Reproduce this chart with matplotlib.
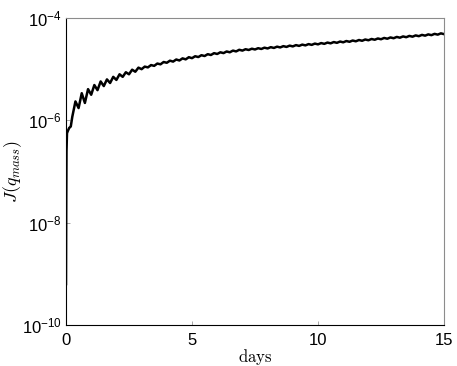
import numpy as np
import matplotlib
matplotlib.use("Agg")
import matplotlib.pyplot as plt
from matplotlib.ticker import FixedLocator, NullLocator, FuncFormatter

plt.rcParams['font.family'] = ['Liberation Sans', 'DejaVu Sans']
plt.rcParams['mathtext.fontset'] = 'cm'

# time (days) and log10 J(q_mass)
days_early = [0.0, 0.01, 0.02, 0.04, 0.08, 0.125, 0.19, 0.25]
logj_early = [-9.2, -7.6, -6.6, -6.25, -6.2, -6.15, -6.12, -5.93]

# from 0.375 on, one value every 0.125 day (peaks and troughs of the wiggles)
days_osc = [0.375 + 0.125 * k for k in range(118)]
logj_osc = [
    -5.63, -5.76, -5.47, -5.66, -5.39, -5.50, -5.31, -5.41,   # 0.375 - 1.25
    -5.24, -5.33, -5.20, -5.27, -5.15, -5.21, -5.10, -5.15,   # 1.375 - 2.25
    -5.06, -5.10, -5.01, -5.05, -4.97, -5.00,                 # 2.375 - 3.0
    -4.950, -4.965, -4.920, -4.935, -4.890, -4.905, -4.860, -4.875,   # 3.125 - 4.0
    -4.834, -4.852, -4.811, -4.830, -4.789, -4.808, -4.766, -4.785,   # 4.125 - 5.0
    -4.747, -4.763, -4.727, -4.743, -4.707, -4.723, -4.687, -4.703,   # 5.125 - 6.0
    -4.670, -4.686, -4.654, -4.670, -4.637, -4.653, -4.621, -4.637,   # 6.125 - 7.0
    -4.610, -4.625, -4.600, -4.615, -4.590, -4.605, -4.580, -4.595,   # 7.125 - 8.0
    -4.570, -4.585, -4.560, -4.575, -4.550, -4.565, -4.540, -4.555,   # 8.125 - 9.0
    -4.530, -4.545, -4.520, -4.535, -4.510, -4.525, -4.500, -4.515,   # 9.125 - 10.0
    -4.490, -4.505, -4.480, -4.495, -4.470, -4.485, -4.460, -4.475,   # 10.125 - 11.0
    -4.450, -4.465, -4.440, -4.455, -4.430, -4.445, -4.420, -4.435,   # 11.125 - 12.0
    -4.410, -4.425, -4.400, -4.415, -4.390, -4.405, -4.380, -4.395,   # 12.125 - 13.0
    -4.370, -4.385, -4.360, -4.375, -4.350, -4.365, -4.340, -4.355,   # 13.125 - 14.0
    -4.330, -4.345, -4.320, -4.335, -4.310, -4.325, -4.300, -4.315,   # 14.125 - 15.0
]

ytick_vals = [1e-10, 1e-8, 1e-6, 1e-4]
xtick_vals = [0, 5, 10, 15]

days = np.array(days_early + days_osc)
J = 10.0 ** np.array(logj_early + logj_osc)

fig = plt.figure(figsize=(4.57, 3.66), dpi=100)
ax = fig.add_axes([0.1444, 0.112, 0.8272, 0.8388])
ax.plot(days, J, color='black', lw=1.8)
ax.set_yscale('log')
ax.set_xlim(0, 15)
ax.set_ylim(1e-10, 1e-4)

ax.yaxis.set_major_locator(FixedLocator(ytick_vals))
ax.yaxis.set_minor_locator(NullLocator())
ax.yaxis.set_major_formatter(FuncFormatter(
    lambda v, p: r'$\mathdefault{10^{%d}}$' % int(round(np.log10(v)))))
ax.set_xticks(xtick_vals)

ax.tick_params(direction='in', length=3, width=0.6, color='0.6',
               labelsize=12)
ax.tick_params(axis='x', pad=6)
ax.tick_params(axis='y', pad=3)
for side in ['top', 'right']:
    ax.spines[side].set_color('0.55')
for side in ['left', 'bottom']:
    ax.spines[side].set_color('black')

ax.set_xlabel(r'$\mathrm{days}$', fontsize=12, va='top')
ax.xaxis.set_label_coords(0.5, -0.072)
ax.set_ylabel(r'$J(q_{mass})$', fontsize=13)
ax.yaxis.set_label_coords(-0.11, 0.5)

fig.savefig('out.png', dpi=100)
